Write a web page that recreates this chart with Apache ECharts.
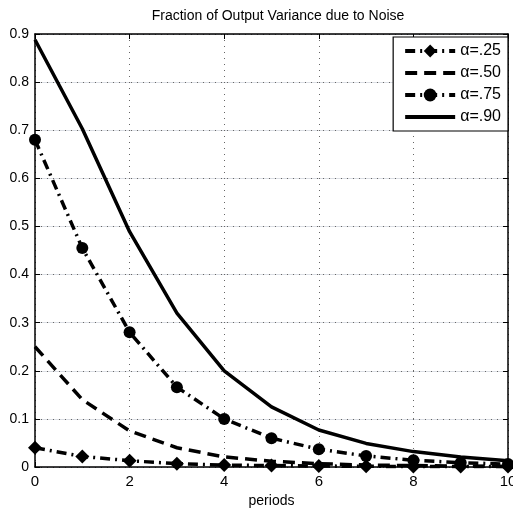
<!DOCTYPE html>
<html><head><meta charset="utf-8">
<script src="https://cdn.jsdelivr.net/npm/echarts@6/dist/echarts.min.js"></script>
<style>html,body{margin:0;padding:0;background:#fff}#c{width:513px;height:514px}</style>
</head><body><div id="c"></div>
<script>
const periods = [0,1,2,3,4,5,6,7,8,9,10];
const a25 = [0.040,0.022,0.013,0.007,0.004,0.003,0.002,0.0015,0.001,0.001,0.001];
const a50 = [0.250,0.140,0.075,0.040,0.021,0.012,0.007,0.004,0.003,0.002,0.001];
const a75 = [0.680,0.455,0.280,0.166,0.100,0.060,0.037,0.023,0.014,0.009,0.006];
const a90 = [0.888,0.703,0.489,0.320,0.200,0.125,0.077,0.049,0.032,0.021,0.013];
const names = ['\u03b1=.25','\u03b1=.50','\u03b1=.75','\u03b1=.90'];
const xTicks = [0,2,4,6,8,10];
const yTicks = [0,0.1,0.2,0.3,0.4,0.5,0.6,0.7,0.8,0.9];

const pair = arr => periods.map((p,i)=>[p,arr[i]]);
const font = 'Liberation Sans, Arial, sans-serif';
const dashDot = [10,5,2,5], dashed = [12,7];
const chart = echarts.init(document.getElementById('c'));
const axCommon = {
  axisLine:{show:true,onZero:false,lineStyle:{color:'#000',width:1.5}},
  axisTick:{show:true,inside:true,length:5,lineStyle:{color:'#000'}},
};
chart.setOption({
  animation:false,
  backgroundColor:'#fff',
  title:{text:'Fraction of Output Variance due to Noise',left:273,top:4,textAlign:'center',
    textStyle:{fontFamily:font,fontSize:14,fontWeight:'normal',color:'#000'}},
  grid:{left:35,right:5,top:34,bottom:47,show:false,containLabel:false,outerBoundsMode:'none'},
  legend:{right:5,top:37,orient:'vertical',itemWidth:50,itemHeight:16,itemGap:6,
    backgroundColor:'#fff',borderColor:'#000',borderWidth:1.2,padding:[6,7,6,10],borderRadius:0,
    textStyle:{fontFamily:font,fontSize:16,color:'#000'},
    data:[
      {name:names[0],lineStyle:{width:4,type:dashDot,color:'#000'}},
      {name:names[1],itemStyle:{opacity:0},lineStyle:{width:4,type:dashed,color:'#000'}},
      {name:names[2],lineStyle:{width:4,type:dashDot,color:'#000'}},
      {name:names[3],itemStyle:{opacity:0},lineStyle:{width:4,type:'solid',color:'#000'}}]},
  xAxis:[{type:'value',min:0,max:10,interval:2,position:'bottom',...axCommon,
    name:'periods',nameLocation:'middle',nameGap:24,
    nameTextStyle:{fontFamily:font,fontSize:14,color:'#000'},
    axisLabel:{fontFamily:font,fontSize:15,color:'#000',margin:7},
    splitLine:{show:true,lineStyle:{color:'#666',type:[1,5],width:1}}},
   {type:'value',min:0,max:10,interval:2,position:'top',...axCommon,axisLabel:{show:false},splitLine:{show:false}}],
  yAxis:[{type:'value',min:0,max:0.9,interval:0.1,position:'left',...axCommon,
    axisLabel:{fontFamily:font,fontSize:14,color:'#000',margin:6,formatter:v=>v===0?'0':String(+v.toFixed(1))}},
   {type:'value',min:0,max:0.9,interval:0.1,position:'right',...axCommon,axisLabel:{show:false},
    splitLine:{show:true,lineStyle:{color:'#666',type:[1,5],width:1}}}],
  series:[
    {name:names[0],type:'line',data:pair(a25),symbol:'diamond',symbolSize:14,
      lineStyle:{color:'#000',width:3.5,type:dashDot},itemStyle:{color:'#000'}},
    {name:names[1],type:'line',data:pair(a50),symbol:'none',showSymbol:false,
      lineStyle:{color:'#000',width:3.5,type:dashed},itemStyle:{color:'#000'}},
    {name:names[2],type:'line',data:pair(a75),symbol:'circle',symbolSize:12,
      lineStyle:{color:'#000',width:3.5,type:dashDot},itemStyle:{color:'#000'}},
    {name:names[3],type:'line',data:pair(a90),symbol:'none',showSymbol:false,
      lineStyle:{color:'#000',width:3.5},itemStyle:{color:'#000'}}
  ]
});
</script></body></html>
